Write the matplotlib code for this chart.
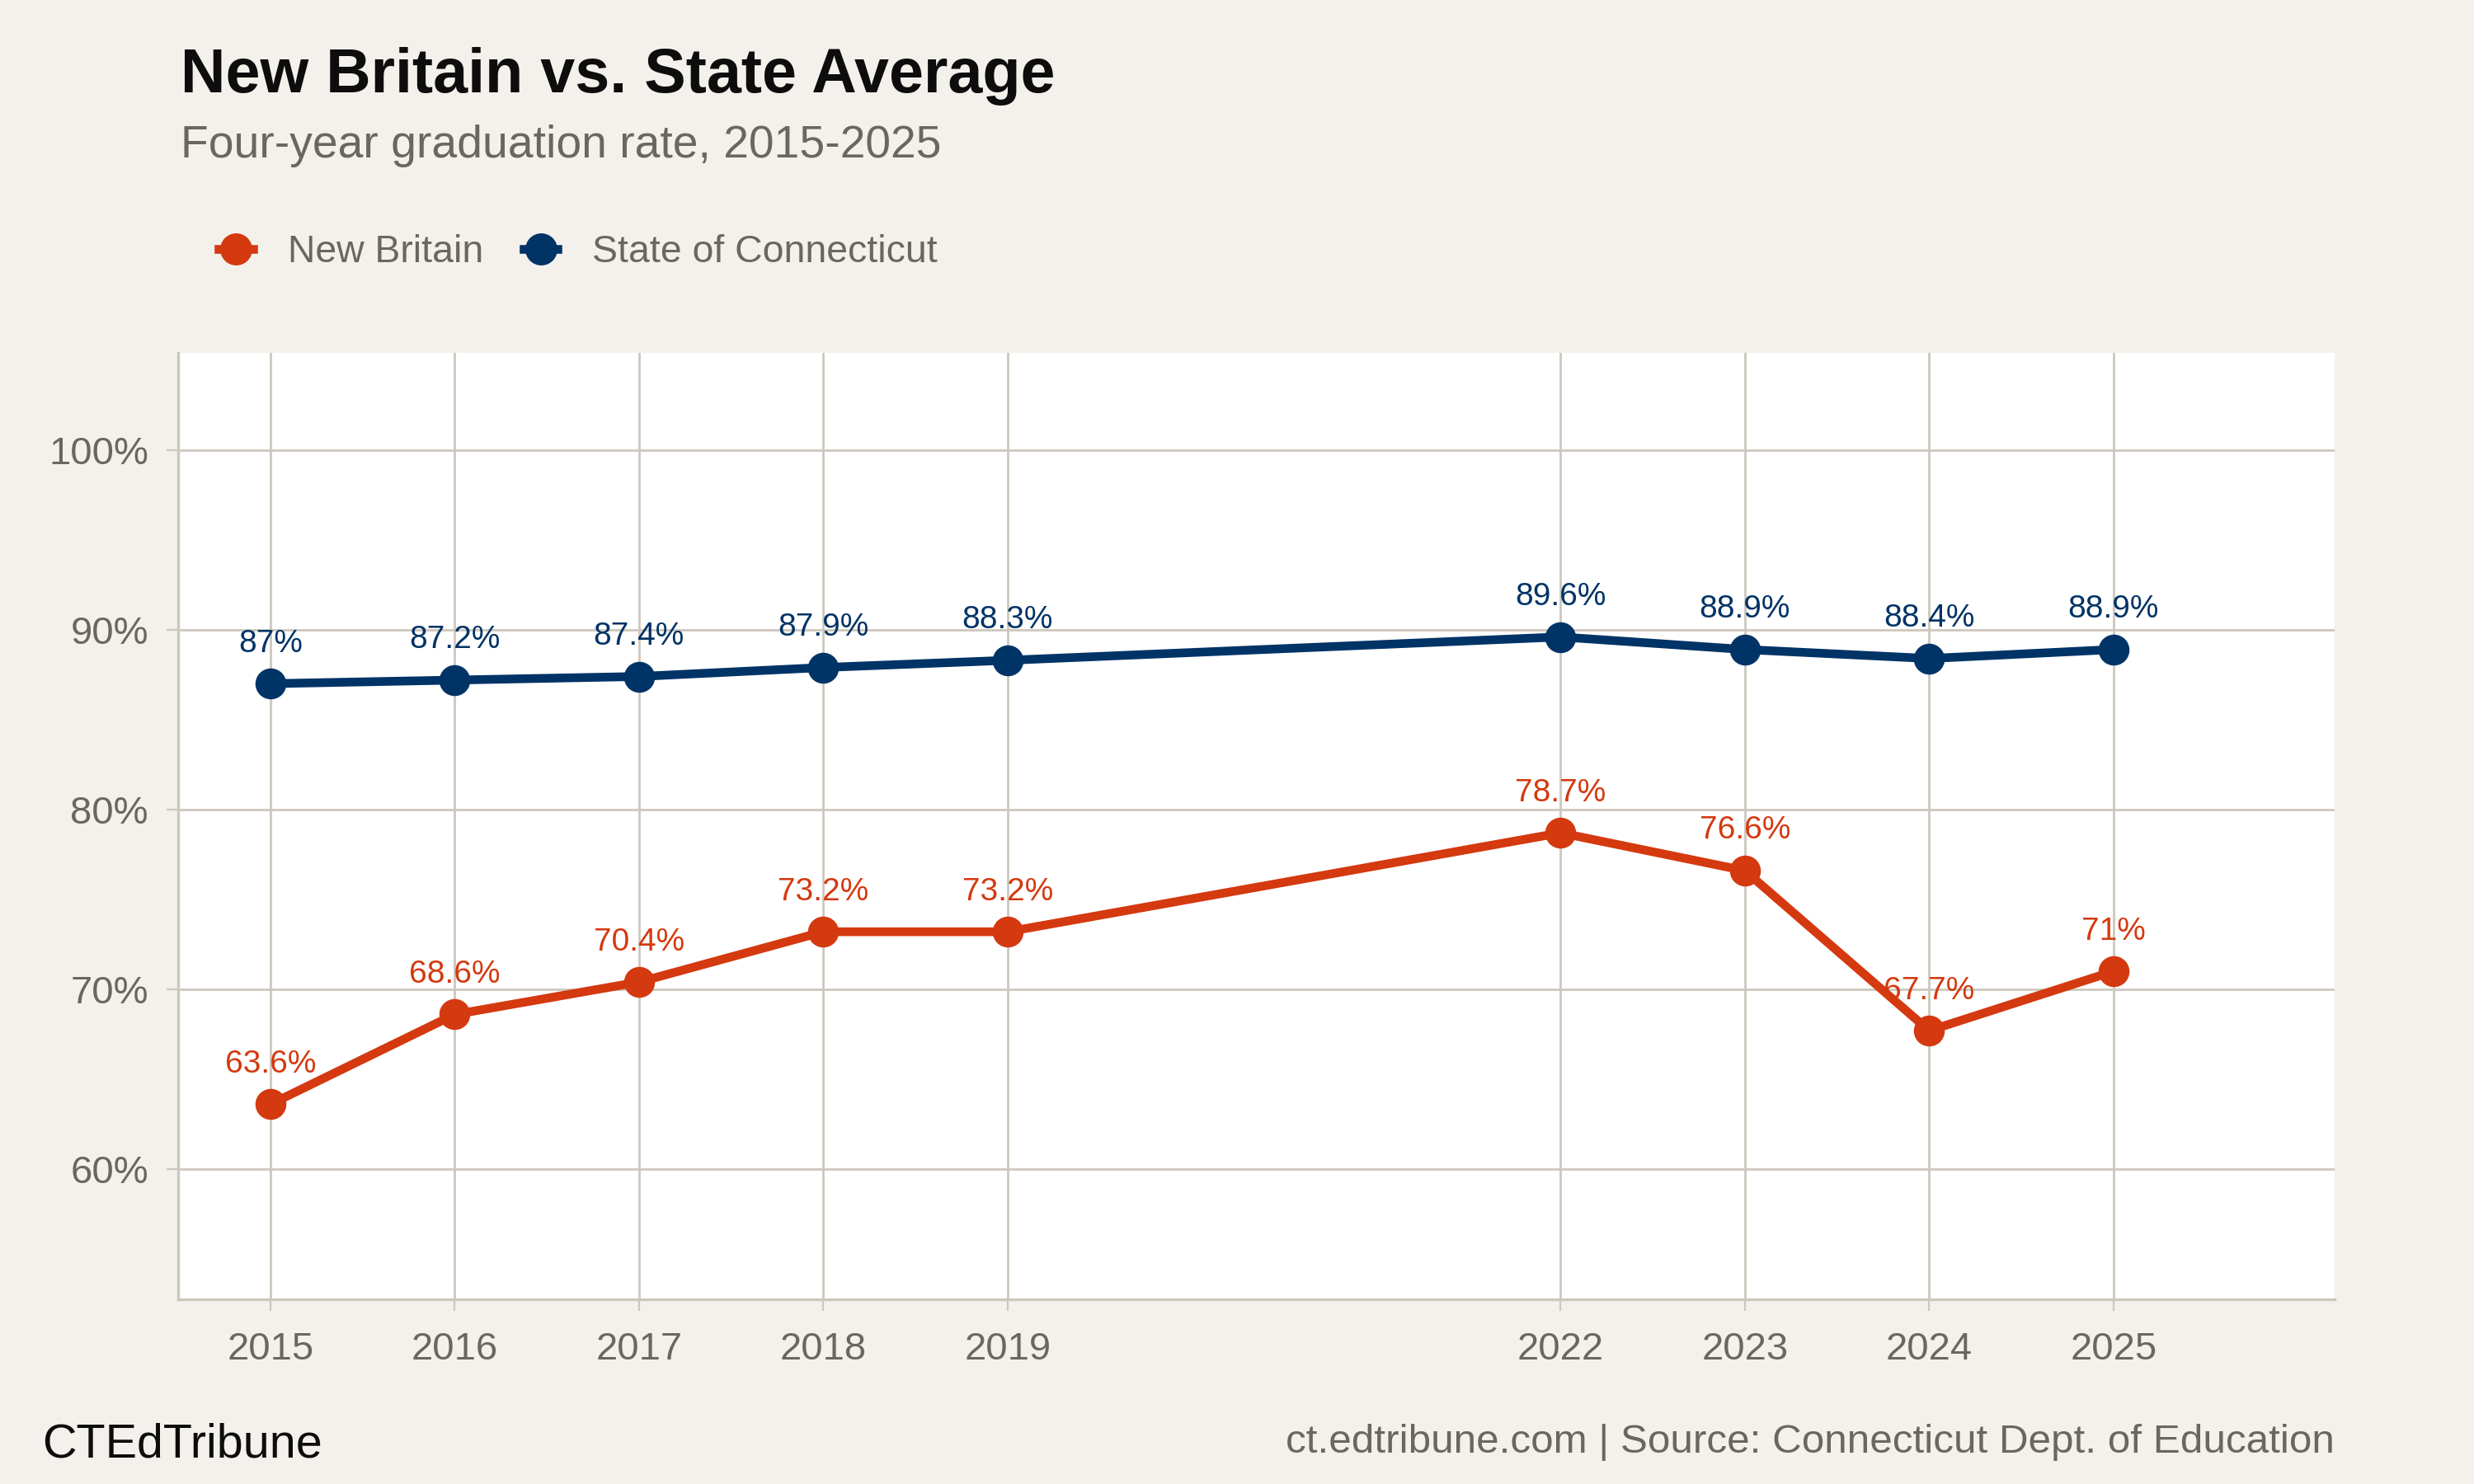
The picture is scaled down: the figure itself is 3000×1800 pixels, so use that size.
import matplotlib
matplotlib.use("Agg")
import matplotlib.pyplot as plt
from matplotlib.lines import Line2D

# --- data ---
years = [2015, 2016, 2017, 2018, 2019, 2022, 2023, 2024, 2025]
new_britain = [63.6, 68.6, 70.4, 73.2, 73.2, 78.7, 76.6, 67.7, 71.0]
connecticut = [87.0, 87.2, 87.4, 87.9, 88.3, 89.6, 88.9, 88.4, 88.9]
y_ticks = [60, 70, 80, 90, 100]

# --- styles ---
BG = "#f4f1ec"
GRID = "#cdc7bd"
GREY = "#6b6760"
RED = "#d4390f"
NAVY = "#003366"

plt.rcParams["font.family"] = ["Liberation Sans", "DejaVu Sans"]

fig = plt.figure(figsize=(15, 9), dpi=200, facecolor=BG)
ax = fig.add_axes([0.072, 0.1244, 0.8717, 0.6378])
ax.set_facecolor("white")

ax.plot(years, new_britain, color=RED, lw=3.8, marker="o", ms=12.5, zorder=3, label="New Britain")
ax.plot(years, connecticut, color=NAVY, lw=3.8, marker="o", ms=12.5, zorder=3, label="State of Connecticut")

for x, v in zip(years, new_britain):
    ax.annotate(f"{v:g}%", (x, v), xytext=(0, 11), textcoords="offset points",
                ha="center", va="bottom", fontsize=14, color=RED, zorder=4)
for x, v in zip(years, connecticut):
    ax.annotate(f"{v:g}%", (x, v), xytext=(0, 11), textcoords="offset points",
                ha="center", va="bottom", fontsize=14, color=NAVY, zorder=4)

ax.set_xlim(2014.5, 2026.2)
ax.set_ylim(52.75, 105.4)
ax.set_xticks(years)
ax.set_xticklabels([str(y) for y in years])
ax.set_yticks(y_ticks)
ax.set_yticklabels([f"{t}%" for t in y_ticks])

ax.grid(True, color=GRID, lw=1.0, zorder=0)
ax.tick_params(colors=GRID, labelcolor=GREY, labelsize=17, length=5, width=0.8)
ax.tick_params(axis="x", pad=9)
ax.tick_params(axis="y", pad=8)
for s in ["top", "right"]:
    ax.spines[s].set_visible(False)
for s in ["left", "bottom"]:
    ax.spines[s].set_color(GRID)
    ax.spines[s].set_linewidth(1.2)

# --- titles ---
fig.text(0.073, 0.938, "New Britain vs. State Average", fontsize=27.2, fontweight="bold",
         color="#0d0d0d", va="baseline")
fig.text(0.073, 0.894, "Four-year graduation rate, 2015-2025", fontsize=19.9,
         color=GREY, va="baseline")

# --- legend ---
handles = [Line2D([], [], color=RED, lw=3.8, marker="o", ms=13),
           Line2D([], [], color=NAVY, lw=3.8, marker="o", ms=13)]
fig.legend(handles, ["New Britain", "State of Connecticut"], loc="center left",
           bbox_to_anchor=(0.0745, 0.83), ncol=2, frameon=False, fontsize=16.7,
           labelcolor=GREY, handlelength=0.9, handletextpad=0.9, columnspacing=1.05)

# --- footer ---
fig.text(0.017, 0.018, "CTEdTribune", fontsize=20.7, color="#0d0d0d", va="baseline")
fig.text(0.9437, 0.021, "ct.edtribune.com | Source: Connecticut Dept. of Education",
         fontsize=17.8, color=GREY, ha="right", va="baseline")

fig.savefig("out.png", dpi=200, facecolor=BG)
